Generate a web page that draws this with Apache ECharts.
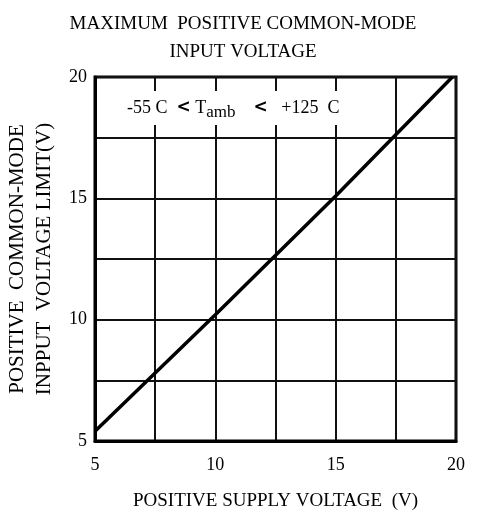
<!DOCTYPE html>
<html>
<head>
<meta charset="utf-8">
<title>Maximum positive common-mode input voltage</title>
<script src="https://cdn.jsdelivr.net/npm/echarts@6/dist/echarts.min.js"></script>
</head>
<body style="margin:0">
<div id="main" style="width:486px;height:513px;"></div>
<script type="text/javascript">
// values
var supplyV = [5, 10, 15, 19.85];
var cmLimitV = [5.4, 10.2, 15.1, 20];
var tickLabels = [5, 10, 15, 20];

var serif = '"Liberation Serif", "Times New Roman", serif';
var myChart = echarts.init(document.getElementById('main'));

function showTick(v) {
    return tickLabels.indexOf(v) >= 0 ? String(v) : '';
}

var axisCommon = {
    type: 'value',
    min: 5,
    max: 20,
    interval: 2.5,
    axisLine: { show: true, onZero: false, lineStyle: { color: '#000', width: 3 } },
    axisTick: { show: false },
    splitLine: { show: true, lineStyle: { color: '#111', width: 2 } },
    nameTextStyle: { fontFamily: serif, fontSize: 19, color: '#000' }
};

var option = {
    animation: false,
    backgroundColor: '#fff',
    title: {
        text: 'MAXIMUM  POSITIVE COMMON-MODE\nINPUT VOLTAGE',
        left: 'center',
        top: 5,
        textStyle: { fontFamily: serif, fontWeight: 'normal', fontSize: 19, color: '#000', lineHeight: 28 }
    },
    grid: {
        left: 95, right: 30, top: 77, bottom: 72,
        outerBoundsMode: 'none',
        containLabel: false,
        show: true, borderColor: '#000', borderWidth: 3
    },
    xAxis: Object.assign({}, axisCommon, {
        name: 'POSITIVE SUPPLY VOLTAGE  (V)',
        nameLocation: 'middle',
        nameGap: 51,
        axisLabel: { formatter: showTick, margin: 15, fontFamily: serif, fontSize: 18, color: '#000' }
    }),
    yAxis: Object.assign({}, axisCommon, {
        name: 'POSITIVE  COMMON-MODE\nINPPUT  VOLTAGE LIMIT(V)',
        nameLocation: 'middle',
        nameRotate: 90,
        nameGap: 37,
        nameTextStyle: { fontFamily: serif, fontSize: 21, color: '#000', lineHeight: 27 },
        axisLabel: { formatter: showTick, margin: 8, fontFamily: serif, fontSize: 18, color: '#000' }
    }),
    series: [{
        type: 'line',
        data: supplyV.map(function (x, i) { return [x, cmLimitV[i]]; }),
        symbol: 'none',
        lineStyle: { color: '#000', width: 3.5 },
        z: 3
    }],
    graphic: [{
        type: 'rect',
        shape: { x: 119, y: 91, width: 243, height: 34 },
        style: { fill: '#fff' },
        z: 100
    }, {
        type: 'text',
        x: 127,
        y: 95,
        z: 101,
        style: {
            text: '{n|-55 C  }{a|<}{n| T}{s|amb}{n|    }{a|<}{n|   +125  C}',
            rich: {
                n: { fontFamily: serif, fontSize: 18, lineHeight: 26, fill: '#000' },
                a: { fontFamily: 'DejaVu Sans', fontWeight: 'bold', fontSize: 17, lineHeight: 26, fill: '#000' },
                s: { fontFamily: serif, fontSize: 17, lineHeight: 17, verticalAlign: 'bottom', fill: '#000' }
            }
        }
    }]
};

myChart.setOption(option);
</script>
</body>
</html>
